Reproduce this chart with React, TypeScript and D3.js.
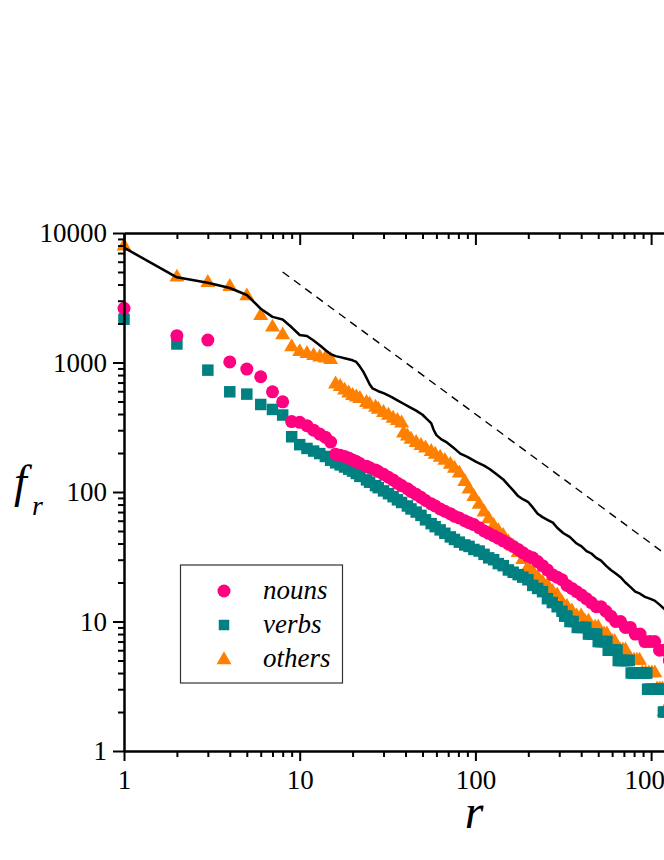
import React, { useEffect, useRef } from 'react';
import * as d3 from 'd3';

type Pt = [number, number];

// rank, frequency
const nouns: Pt[] = [
  [1, 2620], [2, 1610], [3, 1490], [4, 1010], [5, 889], [6, 776], [7, 594], [8, 497], [9, 350], [10, 345],
  [11, 325], [12, 300], [13, 280], [14, 265], [15, 243], [16, 196], [17, 192], [18, 188], [19, 183], [20, 177],
  [21, 172], [22, 166], [24, 158], [25, 154], [27, 148], [28, 144], [30, 137], [32, 130], [34, 124], [36, 117],
  [38, 112], [41, 106], [43, 101], [46, 96], [49, 91], [52, 86], [56, 81], [59, 78], [63, 74], [67, 71],
  [72, 68], [76, 65], [81, 63], [87, 60], [92, 58], [98, 56], [105, 53], [112, 50], [119, 48], [127, 46],
  [135, 44], [144, 42], [154, 40], [164, 38], [175, 36], [186, 34], [199, 32], [212, 31], [226, 29], [241, 27],
  [257, 25], [274, 23], [292, 22], [311, 21], [332, 19], [354, 18], [377, 17], [402, 16], [428, 15], [457, 14],
  [487, 13], [519, 13], [553, 12], [590, 11], [629, 10], [670, 10], [714, 9], [761, 9], [812, 8], [865, 8],
  [922, 7], [983, 7], [1048, 7], [1117, 6], [1190, 6], [1270, 5],
];

const verbs: Pt[] = [
  [1, 2160], [2, 1390], [3, 873], [4, 594], [5, 570], [6, 474], [7, 434], [8, 393], [9, 267], [10, 232],
  [11, 217], [12, 207], [13, 198], [14, 188], [15, 176], [16, 168], [17, 162], [18, 156], [19, 150], [20, 145],
  [21, 139], [22, 132], [24, 124], [25, 119], [27, 112], [28, 108], [30, 102], [32, 97], [34, 92], [36, 87],
  [38, 83], [41, 78], [43, 74], [46, 70], [49, 66], [52, 61], [56, 57], [59, 54], [63, 51], [67, 48],
  [72, 45], [76, 43], [81, 41], [87, 39], [92, 38], [98, 36], [105, 35], [112, 33], [119, 31], [127, 30],
  [135, 28], [144, 27], [154, 25], [164, 24], [175, 23], [186, 22], [199, 21], [212, 19], [226, 18], [241, 17],
  [257, 15], [274, 14], [292, 13], [311, 12], [322, 11], [332, 11], [345, 10], [360, 10], [380, 9], [395, 9],
  [410, 9], [425, 9], [440, 8], [455, 8], [470, 8], [490, 8], [500, 7], [515, 7], [530, 7], [545, 7],
  [560, 7], [570, 6], [590, 6], [610, 6], [625, 6], [640, 6], [650, 5], [670, 5], [690, 5], [710, 5],
  [730, 5], [750, 5], [770, 4], [800, 4], [830, 4], [860, 4], [890, 4], [920, 4], [945, 4], [955, 3],
  [990, 3], [1030, 3], [1070, 3], [1110, 3], [1150, 3], [1175, 2], [1220, 2], [1270, 2],
];

const others: Pt[] = [
  [1, 7900], [2, 4550], [3, 4130], [4, 3850], [5, 3260], [6, 2300], [7, 1870], [8, 1630], [9, 1320], [10, 1210],
  [11, 1170], [12, 1130], [13, 1100], [14, 1080], [15, 1050], [16, 680], [17, 650], [18, 610], [19, 580], [20, 555],
  [21, 540], [22, 525], [24, 490], [25, 475], [27, 450], [28, 435], [30, 410], [32, 390], [34, 370], [36, 355],
  [38, 340], [39, 285], [41, 270], [43, 255], [46, 240], [49, 228], [52, 218], [56, 205], [59, 195], [63, 185],
  [67, 175], [72, 163], [76, 152], [81, 140], [87, 120], [92, 105], [98, 92], [105, 80], [112, 70], [119, 62],
  [127, 55], [135, 50], [144, 46], [154, 41], [164, 38], [175, 34], [186, 30], [199, 26], [212, 24], [226, 22],
  [241, 20], [257, 19], [274, 17], [292, 16], [311, 14], [332, 13], [354, 12], [377, 11], [400, 11], [420, 10],
  [440, 10], [460, 9], [480, 9], [500, 9], [520, 8], [540, 8], [560, 8], [580, 7], [600, 7], [620, 7],
  [640, 6], [665, 6], [690, 6], [715, 6], [740, 5], [770, 5], [800, 5], [830, 5], [860, 5], [890, 4],
  [930, 4], [970, 4], [1010, 4], [1050, 4], [1080, 3], [1120, 3], [1160, 3], [1185, 2], [1230, 2], [1270, 2],
];

const total: Pt[] = [
  [1, 7700], [2, 4550], [3, 4130], [4, 3760], [5, 3320], [6, 2600], [7, 2250], [8, 2150], [9, 1870], [10, 1630],
  [11, 1600], [12, 1480], [13, 1360], [14, 1250], [15, 1160], [16, 1120], [17, 1100], [18, 1080], [19, 1060], [20, 1040],
  [21, 1010], [22, 930], [23, 850], [24, 760], [25, 680], [26, 630], [28, 600], [30, 580], [33, 545], [36, 510],
  [39, 480], [42, 455], [46, 425], [50, 395], [53, 365], [56, 340], [58, 300], [60, 275], [64, 255], [68, 244],
  [75, 220], [82, 198], [90, 187], [101, 171], [112, 160], [121, 150], [132, 137], [144, 125], [154, 113], [164, 103],
  [175, 93], [186, 88], [199, 84], [212, 76], [226, 68], [241, 64], [257, 61], [276, 58], [292, 53], [317, 48],
  [344, 45], [377, 40], [402, 38], [429, 35], [457, 33.5], [487, 31], [519, 29.5], [553, 27], [590, 25], [629, 23.5],
  [670, 22], [714, 20], [761, 18.5], [812, 17], [865, 16.4], [922, 15.5], [983, 15], [1048, 14.5], [1117, 13.5], [1190, 12.5],
  [1270, 11],
];

// slope -1 reference line, end points
const guide: Pt[] = [[8, 5000], [2000, 20]];

const xMajor = [1, 10, 100, 1000];
const yMajor = [1, 10, 100, 1000, 10000];

// drawn in this order: others under verbs under nouns
const series = [
  { key: 'others', data: others, color: '#FF8000', symbol: d3.symbolTriangle, size: 97, label: 'others' },
  { key: 'verbs', data: verbs, color: '#008080', symbol: d3.symbolSquare, size: 132, label: 'verbs' },
  { key: 'nouns', data: nouns, color: '#FF0080', symbol: d3.symbolCircle, size: 133, label: 'nouns' },
];

const FONT = "'Liberation Serif', 'Times New Roman', Times, 'DejaVu Serif', serif";

export default function App() {
  const ref = useRef<SVGSVGElement>(null);

  useEffect(() => {
    document.body.style.margin = '0';
    if (!ref.current) return;
    const svg = d3.select(ref.current);
    svg.selectAll('*').remove();

    const left = 124, right = 704, top = 233, bottom = 751;
    const x = d3.scaleLog().domain([1, 2000]).range([left, right]);
    const y = d3.scaleLog().domain([1, 10000]).range([bottom, top]);

    const minorOf = (majors: number[], max: number) => {
      const out: number[] = [];
      majors.forEach(m => { for (let k = 2; k <= 9; k++) if (m * k <= max) out.push(m * k); });
      return out;
    };
    const xMinor = minorOf(xMajor, 2000);
    const yMinor = minorOf(yMajor.slice(0, -1), 10000);

    // markers
    series.forEach(s => {
      const sym = d3.symbol().type(s.symbol).size(s.size);
      svg.append('g')
        .selectAll('path')
        .data(s.data)
        .enter()
        .append('path')
        .attr('d', sym)
        .attr('transform', d => `translate(${x(d[0])},${y(d[1])})`)
        .attr('fill', s.color);
    });

    // total line
    const line = d3.line<Pt>().x(d => x(d[0])).y(d => y(d[1]));
    svg.append('path')
      .datum(total)
      .attr('d', line)
      .attr('fill', 'none')
      .attr('stroke', '#000')
      .attr('stroke-width', 2.5)
      .attr('stroke-linejoin', 'round');

    svg.append('path')
      .datum(guide)
      .attr('d', line)
      .attr('fill', 'none')
      .attr('stroke', '#000')
      .attr('stroke-width', 1.4)
      .attr('stroke-dasharray', '8,6');

    const styleAxis = (g: d3.Selection<SVGGElement, unknown, null, undefined>) => {
      g.attr('font-family', null).attr('font-size', null);
      g.selectAll('path.domain').attr('stroke-width', 2);
      g.selectAll('line').attr('stroke-width', 2);
      g.selectAll('text').style('font-family', FONT).style('font-size', '27px').attr('fill', '#000');
    };

    // bottom
    svg.append('g').attr('transform', `translate(0,${bottom})`)
      .call(d3.axisBottom(x).tickValues(xMinor).tickSizeInner(6).tickSizeOuter(0).tickFormat(() => ''))
      .call(styleAxis);
    svg.append('g').attr('transform', `translate(0,${bottom})`)
      .call(d3.axisBottom(x).tickValues(xMajor).tickSizeInner(10).tickSizeOuter(0).tickPadding(9).tickFormat(d3.format('d')))
      .call(styleAxis);

    // top (inward ticks)
    svg.append('g').attr('transform', `translate(0,${top})`)
      .call(d3.axisTop(x).tickValues(xMinor).tickSizeInner(-6).tickSizeOuter(0).tickFormat(() => ''))
      .call(styleAxis);
    svg.append('g').attr('transform', `translate(0,${top})`)
      .call(d3.axisTop(x).tickValues(xMajor).tickSizeInner(-12).tickSizeOuter(0).tickFormat(() => ''))
      .call(styleAxis);

    // left
    svg.append('g').attr('transform', `translate(${left},0)`)
      .call(d3.axisLeft(y).tickValues(yMinor).tickSizeInner(6).tickSizeOuter(0).tickFormat(() => ''))
      .call(styleAxis);
    svg.append('g').attr('transform', `translate(${left},0)`)
      .call(d3.axisLeft(y).tickValues(yMajor).tickSizeInner(11).tickSizeOuter(0).tickPadding(6).tickFormat(d3.format('d')))
      .call(styleAxis);

    // right
    svg.append('g').attr('transform', `translate(${right},0)`)
      .call(d3.axisRight(y).tickValues(yMajor).tickSizeInner(-12).tickSizeOuter(0).tickFormat(() => ''))
      .call(styleAxis);

    // axis titles
    const fy = svg.append('text')
      .attr('x', 14).attr('y', 497)
      .style('font-family', FONT).style('font-style', 'italic').style('font-size', '46px');
    fy.append('tspan').text('f');
    fy.append('tspan').attr('x', 32).attr('y', 515).style('font-size', '28px').text('r');

    svg.append('text')
      .attr('x', 474).attr('y', 828)
      .attr('text-anchor', 'middle')
      .style('font-family', FONT).style('font-style', 'italic').style('font-size', '48px')
      .text('r');

    // legend
    const lg = svg.append('g');
    lg.append('rect')
      .attr('x', 180.5).attr('y', 565).attr('width', 162).attr('height', 118)
      .attr('fill', '#fff').attr('stroke', '#333').attr('stroke-width', 1.2);
    const legendItems = [series[2], series[1], series[0]];
    legendItems.forEach((s, i) => {
      const cy = 591 + i * 34;
      lg.append('path')
        .attr('d', d3.symbol().type(s.symbol).size(s.key === 'verbs' ? 110 : s.size)())
        .attr('transform', `translate(224,${cy + (s.key === 'others' ? 1 : 0)})`)
        .attr('fill', s.color);
      lg.append('text')
        .attr('x', 263).attr('y', cy + 8)
        .style('font-family', FONT).style('font-style', 'italic').style('font-size', '27px')
        .text(s.label);
    });
  }, []);

  return (
    <svg
      ref={ref}
      width={664}
      height={860}
      style={{ position: 'absolute', left: 0, top: 0, overflow: 'hidden', background: '#fff' }}
    />
  );
}
